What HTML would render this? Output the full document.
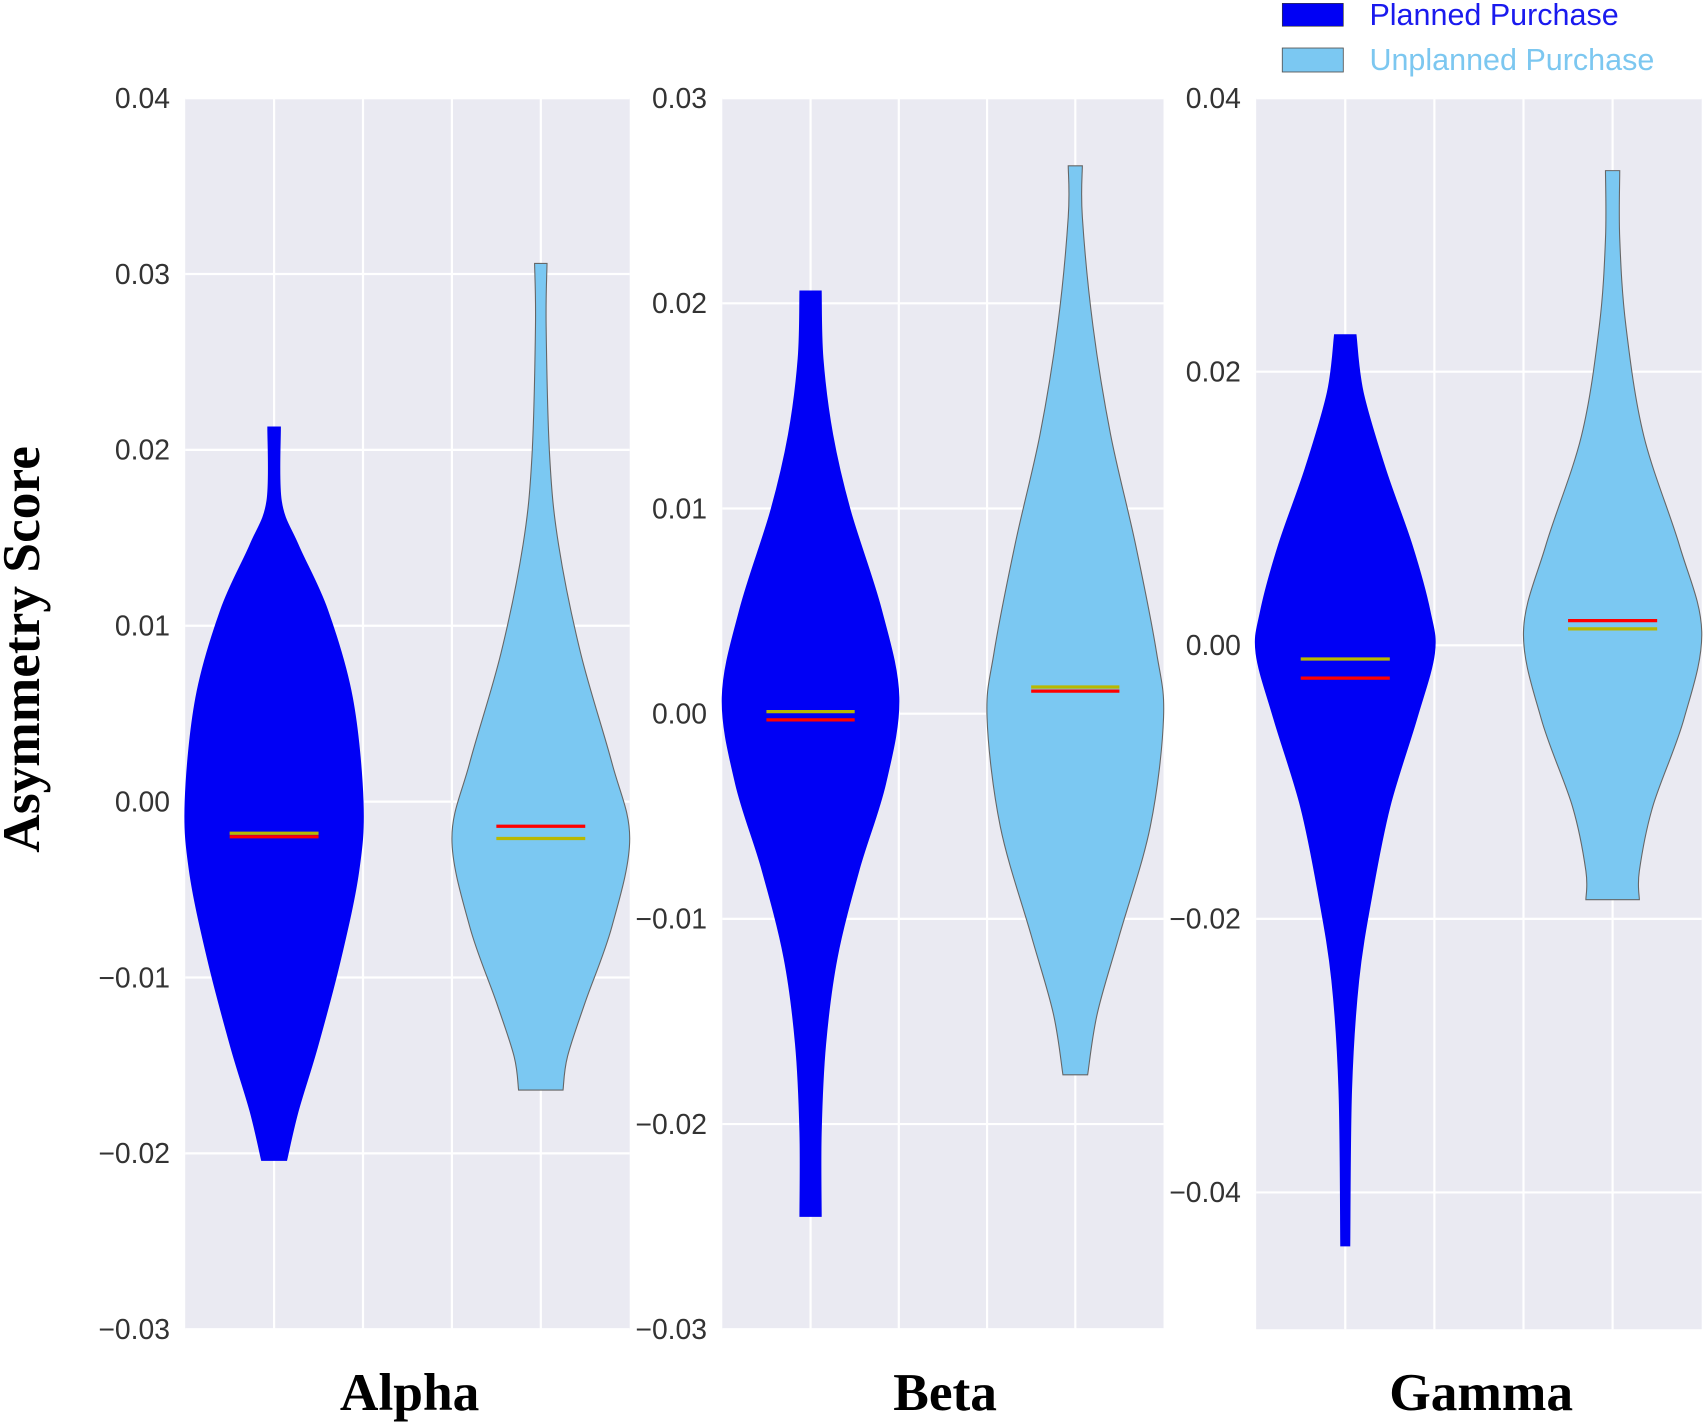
<!DOCTYPE html>
<html><head><meta charset="utf-8"><style>
html,body{margin:0;padding:0;background:#fff;}
svg{display:block;}
</style></head><body>
<svg id="chart" width="1705" height="1423" viewBox="0 0 1565 1306" xmlns="http://www.w3.org/2000/svg" font-family="Liberation Sans, sans-serif">
<text transform="translate(36,596) rotate(-90)" text-anchor="middle" font-family="Liberation Serif, serif" font-weight="bold" font-size="49" fill="#000">Asymmetry Score</text>
<g>
<rect x="1177" y="3" width="56" height="21" fill="#0000f5" stroke="#333" stroke-width="0.6"/>
<text x="1257" y="23" font-size="28" fill="#1a1aee">Planned Purchase</text>
<rect x="1177" y="44" width="56" height="22" fill="#7bc8f2" stroke="#555" stroke-width="0.8"/>
<text x="1257" y="64" font-size="28" fill="#7cc7f0">Unplanned Purchase</text>
</g>
<text x="1535" y="125" text-anchor="middle" font-family="Liberation Serif, serif" font-weight="bold" font-size="40" fill="#000">*</text>
<g id="panels"></g>
</svg>
<script>
// Panel names and axis ranges
const panelNames = ["Alpha", "Beta", "Gamma"];
const yMin = [-0.03, -0.03, -0.05];
const yMax = [0.04, 0.03, 0.04];
const yTicks0 = [0.04, 0.03, 0.02, 0.01, 0.00, -0.01, -0.02, -0.03];
const yTicks1 = [0.03, 0.02, 0.01, 0.00, -0.01, -0.02, -0.03];
const yTicks2 = [0.04, 0.02, 0.00, -0.02, -0.04];
const tickLabels0 = ["0.04","0.03","0.02","0.01","0.00","\u22120.01","\u22120.02","\u22120.03"];
const tickLabels1 = ["0.03","0.02","0.01","0.00","\u22120.01","\u22120.02","\u22120.03"];
const tickLabels2 = ["0.04","0.02","0.00","\u22120.02","\u22120.04"];

// Violin density profiles: values and relative half-widths
const alphaPlannedVals = [0.0213,0.0171,0.0146,0.0109,0.0059,0,-0.004,-0.0089,-0.0139,-0.0176,-0.0204];
const alphaPlannedDens = [0.07,0.08,0.27,0.6,0.88,1,0.95,0.75,0.49,0.27,0.14];
const alphaUnplannedVals = [0.0306,0.027,0.0196,0.0146,0.0084,0.0022,-0.0021,-0.0071,-0.0114,-0.0145,-0.0164];
const alphaUnplannedDens = [0.07,0.06,0.1,0.2,0.45,0.8,1.0,0.8,0.5,0.3,0.25];
const betaPlannedVals = [0.0206,0.0173,0.0136,0.0099,0.0051,0.0008,-0.0034,-0.0076,-0.0119,-0.0161,-0.0204,-0.0245];
const betaPlannedDens = [0.12,0.14,0.25,0.45,0.8,1.0,0.85,0.55,0.3,0.17,0.12,0.12];
const betaUnplannedVals = [0.0267,0.0242,0.0189,0.0136,0.0083,0.003,-0.0002,-0.0055,-0.0108,-0.0146,-0.0176];
const betaUnplannedDens = [0.08,0.08,0.2,0.4,0.68,0.92,1.0,0.85,0.5,0.25,0.14];
const gammaPlannedVals = [0.0227,0.0185,0.0129,0.0073,0.0025,-0.0006,-0.0054,-0.0118,-0.0182,-0.0245,-0.0325,-0.0439];
const gammaPlannedDens = [0.12,0.2,0.45,0.75,0.95,1.0,0.8,0.5,0.3,0.15,0.07,0.05];
const gammaUnplannedVals = [0.0347,0.0297,0.0233,0.0153,0.0073,0.001,-0.0054,-0.0118,-0.0165,-0.0186];
const gammaUnplannedDens = [0.08,0.08,0.15,0.35,0.75,1.0,0.8,0.45,0.3,0.3];

// Mean (yellow) and median (red) markers: [planned, unplanned] per panel
const meanVals = [[-0.0018,-0.0021],[0.0001,0.0013],[-0.0010,0.0012]];
const medianVals = [[-0.0020,-0.0014],[-0.0003,0.0011],[-0.0024,0.0018]];

const panelLeft = [170, 663, 1153];
const panelWidths = [408, 405, 409];
const plotTop = 90, plotBottom = 1220;
const SVGNS = "http://www.w3.org/2000/svg";
const root = document.getElementById("panels");

function mk(tag, attrs, parent){
  const e = document.createElementNS(SVGNS, tag);
  for (const k in attrs) e.setAttribute(k, attrs[k]);
  parent.appendChild(e);
  return e;
}
function smoothPath(pts){
  let d = "M" + pts[0][0] + "," + pts[0][1];
  for (let i=0;i<pts.length-1;i++){
    const p0 = pts[Math.max(0,i-1)], p1 = pts[i], p2 = pts[i+1], p3 = pts[Math.min(pts.length-1,i+2)];
    const c1x = p1[0]+(p2[0]-p0[0])/6, c1y = p1[1]+(p2[1]-p0[1])/6;
    const c2x = p2[0]-(p3[0]-p1[0])/6, c2y = p2[1]-(p3[1]-p1[1])/6;
    d += " C"+c1x+","+c1y+" "+c2x+","+c2y+" "+p2[0]+","+p2[1];
  }
  return d;
}

const violinData = [
  [[alphaPlannedVals,alphaPlannedDens],[alphaUnplannedVals,alphaUnplannedDens]],
  [[betaPlannedVals,betaPlannedDens],[betaUnplannedVals,betaUnplannedDens]],
  [[gammaPlannedVals,gammaPlannedDens],[gammaUnplannedVals,gammaUnplannedDens]]
];
const allTicks = [yTicks0, yTicks1, yTicks2];
const allLabels = [tickLabels0, tickLabels1, tickLabels2];
const fills = ["#0000f5", "#7bc8f2"];
const strokes = ["#0000f5", "#666"];
const groupNames = ["planned", "unplanned"];

for (let p=0;p<3;p++){
  const L = panelLeft[p];
  const panelWidth = panelWidths[p];
  const yScale = v => plotTop + (yMax[p]-v)/(yMax[p]-yMin[p])*(plotBottom-plotTop);
  const xScale = f => L + f*panelWidth;
  const g = mk("g", {}, root);
  
  
  const bg = mk("rect", {x:L, y:plotTop, width:panelWidth, height:plotBottom-plotTop, fill:"#eaeaf2"}, g);
  
  
  allTicks[p].forEach((t,i)=>{
    const y = yScale(t);
    const gl = mk("line", {x1:L, x2:L+panelWidth, y1:y, y2:y, stroke:"#fff", "stroke-width":2}, g);
    
    
    const tl = mk("text", {x:L-14, y:y+9, "text-anchor":"end", "font-size":26, fill:"#333"}, g);
    
    
    tl.textContent = allLabels[p][i];
  });
  [0.2,0.4,0.6,0.8].forEach(f=>{
    const x = xScale(f);
    const vl = mk("line", {x1:x, x2:x, y1:plotTop, y2:plotBottom, stroke:"#fff", "stroke-width":2}, g);
    
    
  });
  const centers = [0.2, 0.8];
  const maxHalf = 0.2*panelWidth;
  for (let s=0;s<2;s++){
    const vals = violinData[p][s][0], dens = violinData[p][s][1];
    const cx = xScale(centers[s]);
    const right = vals.map((v,i)=>[cx+dens[i]*maxHalf, yScale(v)]);
    const left = vals.map((v,i)=>[cx-dens[i]*maxHalf, yScale(v)]).reverse();
    const d = smoothPath(right) + " L" + left[0][0] + "," + left[0][1] + smoothPath(left).replace(/^M[^C]*/, " ") + " Z";
    const path = mk("path", {d:d, fill:fills[s], stroke:strokes[s], "stroke-width":1}, g);
    
    
    const mhalf = 0.1*panelWidth;
    const ym = yScale(meanVals[p][s]);
    const ml = mk("line", {x1:cx-mhalf, x2:cx+mhalf, y1:ym, y2:ym, stroke:"#b8b800", "stroke-width":3}, g);
    
    
    const yd = yScale(medianVals[p][s]);
    const dl = mk("line", {x1:cx-mhalf, x2:cx+mhalf, y1:yd, y2:yd, stroke:"#ff0000", "stroke-width":3}, g);
    
    
  }
  const title = mk("text", {x:L+panelWidth/2+2, y:1294, "text-anchor":"middle", "font-family":"Liberation Serif, serif", "font-weight":"bold", "font-size":49, fill:"#000"}, g);
  
  
  title.textContent = panelNames[p];
}
</script>
</body></html>
